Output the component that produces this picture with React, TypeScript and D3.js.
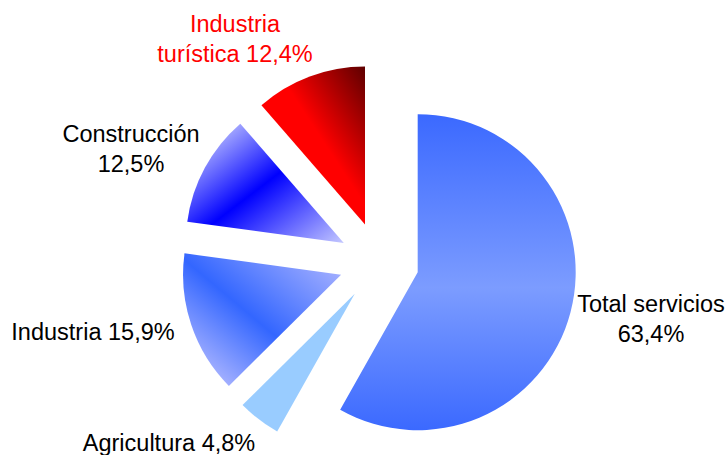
import React from "react";
import * as d3 from "d3";

const categories = ["Total servicios", "Agricultura", "Industria", "Construcción", "Industria turística"];
const values = [63.4, 4.8, 15.9, 12.5, 12.4];
const labelLines = [
  ["Total servicios", "63,4%"],
  ["Agricultura 4,8%"],
  ["Industria 15,9%"],
  ["Construcción", "12,5%"],
  ["Industria", "turística 12,4%"],
];

const W = 727;
const H = 455;
const CX = 379;
const CY = 262;
const R = 158;
const EXPLODE = 40;
const FONT = "'Liberation Sans', Arial, Helvetica, sans-serif";

// label layout (center x, first baseline y), colour
const labelLayout = [
  { x: 651, y: 312, color: "#000" },
  { x: 169, y: 451, color: "#000" },
  { x: 93, y: 340, color: "#000" },
  { x: 131, y: 142, color: "#000" },
  { x: 235, y: 32, color: "#ff0000" },
];

const gradients = [
  { id: "g0", x1: 0, y1: 0, x2: 0, y2: 1, stops: [[0, "#3b69ff"], [0.55, "#7c9cff"], [1, "#3b69ff"]] },
  { id: "g1", x1: 0, y1: 0, x2: 0, y2: 1, stops: [[0, "#99ccff"], [1, "#99ccff"]] },
  { id: "g2", x1: 0, y1: 1, x2: 1, y2: 0, stops: [[0, "#b4baff"], [0.1, "#b0b8ff"], [0.48, "#3366ff"], [1, "#b4baff"]] },
  { id: "g3", x1: 0, y1: 0, x2: 1, y2: 1, stops: [[0, "#acb0ff"], [0.15, "#a8acff"], [0.5, "#0000ff"], [1, "#c4c8ff"]] },
  { id: "g4", x1: 0, y1: 1, x2: 1, y2: 0, stops: [[0, "#ff0000"], [0.56, "#ff0000"], [1, "#5e0000"]] },
];

export default function App() {
  const pie = d3.pie<number>().sort(null).startAngle(0).endAngle(2 * Math.PI);
  const arcs = pie(values);
  const arc = d3.arc<d3.PieArcDatum<number>>().innerRadius(0).outerRadius(R);

  return (
    <svg width={W} height={H} style={{ position: "absolute", left: 0, top: 0, background: "#fff" }}>
      <defs>
        {gradients.map((g) => (
          <linearGradient key={g.id} id={g.id} x1={g.x1} y1={g.y1} x2={g.x2} y2={g.y2}>
            {g.stops.map((s, i) => (
              <stop key={i} offset={s[0] as number} stopColor={s[1] as string} />
            ))}
          </linearGradient>
        ))}
      </defs>
      {arcs.map((a, i) => {
        const mid = (a.startAngle + a.endAngle) / 2;
        const dx = Math.sin(mid) * EXPLODE;
        const dy = -Math.cos(mid) * EXPLODE;
        return (
          <path
            key={categories[i]}
            d={arc(a) || ""}
            transform={`translate(${CX + dx},${CY + dy})`}
            fill={`url(#${gradients[i].id})`}
          />
        );
      })}
      {labelLines.map((lines, i) => (
        <text
          key={i}
          x={labelLayout[i].x}
          y={labelLayout[i].y}
          fill={labelLayout[i].color}
          fontFamily={FONT}
          fontSize={23.5}
          textAnchor="middle"
        >
          {lines.map((l, j) => (
            <tspan key={j} x={labelLayout[i].x} dy={j === 0 ? 0 : 30}>
              {l}
            </tspan>
          ))}
        </text>
      ))}
    </svg>
  );
}
